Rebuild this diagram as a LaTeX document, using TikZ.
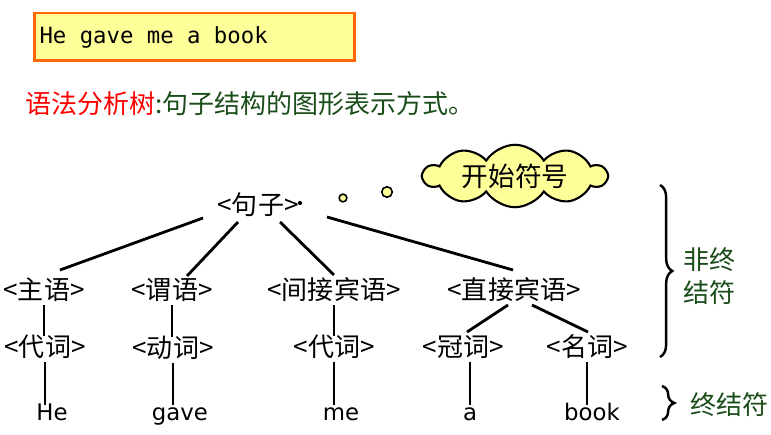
\documentclass[tikz,border=0pt]{standalone}
\usepackage{fontspec}
\newfontfamily\cjk{Noto Sans CJK SC}
\newfontfamily\monofont{DejaVu Sans Mono}
\newfontfamily\latfont{DejaVu Sans}
\usetikzlibrary{calc, shapes.symbols, decorations.pathreplacing}
\definecolor{boxyellow}{HTML}{FFFF99}
\definecolor{boxorange}{HTML}{FF6600}
\definecolor{termgreen}{HTML}{1A4D1A}
\newcommand{\msp}{\hspace{0.6em}}
\tikzset{
  sym/.style={font=\cjk\fontsize{14.8}{16}\selectfont, inner sep=0pt, text height=11.5pt, text depth=3.3pt},
  word/.style={font=\latfont\fontsize{13}{15}\selectfont, inner sep=0pt, text height=9pt, text depth=2.5pt},
  branch/.style={line width=1.6pt},
  bracemark/.style={decorate, decoration={brace, amplitude=7pt}, line width=1.4pt},
  lbl/.style={font=\cjk\fontsize{14.8}{18.8}\selectfont, text=termgreen, inner sep=0pt}
}
\begin{document}
\begin{tikzpicture}[x=0.02cm, y=-0.02cm]
  \useasboundingbox (0,0) rectangle (771,435);
  % sentence box and title
  \node (sent) [draw=boxorange, line width=1.7pt, fill=boxyellow, minimum width=6.42cm, minimum height=0.96cm,
     text width=6.2cm, align=left, inner sep=0pt, font=\monofont\fontsize{12.7}{15}\selectfont] at (194.5,37)
     {He\msp gave\msp me\msp a\msp book};
  \node (title) [anchor=west, inner sep=0pt, font=\cjk\fontsize{14.8}{16}\selectfont] at (25,104)
     {\textcolor{red}{语法分析树}\textcolor{termgreen}{:句子结构的图形表示方式。}};
  % start symbol cloud
  \node (cl) [cloud, draw, fill=boxyellow, line width=1.2pt, cloud puffs=10, cloud puff arc=115, aspect=3.9,
     minimum width=3.66cm, minimum height=0.8cm, inner sep=0pt, font=\cjk\fontsize{15.2}{16}\selectfont] at (515,176) {开始符号};
  \fill (300,203) circle (1.2pt);
  \draw[fill=boxyellow, line width=0.9pt] (343,198) circle (2.2pt);
  \draw[fill=boxyellow, line width=0.9pt] (387,192) circle (3pt);
  % nonterminals
  \node (s) [sym] at (258,207) {<句子>};
  \node (zy) [sym] at (44,292) {<主语>};
  \node (wy) [sym] at (172,292) {<谓语>};
  \node (jj) [sym] at (334,292) {<间接宾语>};
  \node (zj) [sym] at (514,292) {<直接宾语>};
  \node (dc1) [sym] at (45,349) {<代词>};
  \node (dong) [sym] at (173,350) {<动词>};
  \node (dc2) [sym] at (334,349) {<代词>};
  \node (gc) [sym] at (463,349) {<冠词>};
  \node (mc) [sym] at (587,349) {<名词>};
  % terminals
  \node (he) [word] at (52,415) {He};
  \node (gave) [word] at (180,415) {gave};
  \node (me) [word] at (341,415) {me};
  \node (a) [word] at (470,415) {a};
  \node (book) [word] at (592,415) {book};
  % branches
  \draw[branch] ($(s)+(-55,11)$) -- ($(zy)+(16,-22)$);
  \draw[branch] ($(s)+(-20,15)$) -- ($(wy)+(15,-16)$);
  \draw[branch] ($(s)+(22,15)$) -- ($(jj)+(0,-17)$);
  \draw[branch] ($(s)+(69,10)$) -- ($(zj)+(-1,-22)$);
  \draw[branch] ($(zj)+(-6,13)$) -- ($(gc)+(4,-17)$);
  \draw[branch] ($(zj)+(18,13)$) -- ($(mc)+(1,-17)$);
  \draw[branch] (zy.south) -- (zy.south |- dc1.north);
  \draw[branch] (wy.south) -- (wy.south |- dong.north);
  \draw[branch] (jj.south) -- (jj.south |- dc2.north);
  \draw[branch] (dc1.south) -- (dc1.south |- he.north);
  \draw[branch] (dong.south) -- (dong.south |- gave.north);
  \draw[branch] (dc2.south) -- (dc2.south |- me.north);
  \draw[branch] (a.north) -- (a.north |- gc.south);
  \draw[branch] (mc.south) -- (mc.south |- book.north);
  % braces
  \draw[bracemark] (660,185) -- (660,357);
  \node (nt) [lbl, align=left] at (709,276) {非终\\结符};
  \draw[bracemark] (662,386) -- (662,420);
  \node (t) [lbl] at (729,405) {终结符};
\end{tikzpicture}
\end{document}
